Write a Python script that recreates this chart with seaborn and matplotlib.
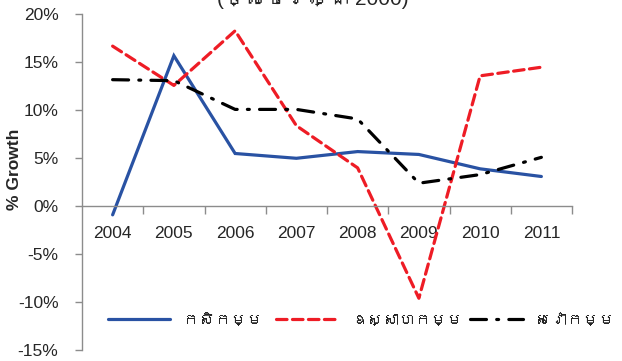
import numpy as np
import pandas as pd
import seaborn as sns
import matplotlib
matplotlib.use("Agg")
import matplotlib.pyplot as plt
from matplotlib import font_manager
from matplotlib.ft2font import FT2Font
from matplotlib.lines import Line2D
from matplotlib.ticker import FixedLocator, FuncFormatter

years = ["2004", "2005", "2006", "2007", "2008", "2009", "2010", "2011"]
agriculture = [-0.9, 15.7, 5.5, 5.0, 5.7, 5.4, 3.9, 3.1]
industry = [16.7, 12.6, 18.3, 8.4, 4.0, -9.6, 13.6, 14.5]
services = [13.2, 13.1, 10.1, 10.1, 9.1, 2.4, 3.3, 5.1]
series_names = ["កសិកម្ម", "ឧស្សាហកម្ម", "សេវាកម្ម"]
title_text = "(ថ្លៃថេរឆ្នាំ 2000)"
y_ticks = [-15, -10, -5, 0, 5, 10, 15, 20]


def find_khmer_family():
    """Return the name of an installed family that covers Khmer script."""
    seen = set()
    for entry in font_manager.fontManager.ttflist:
        if entry.fname in seen:
            continue
        seen.add(entry.fname)
        try:
            cmap = FT2Font(entry.fname).get_charmap()
        except Exception:
            continue
        if 0x1780 in cmap and 0x17D2 in cmap:
            return entry.name
    return None


sns.set_theme(style="white")
base_family = "Liberation Sans"
khmer = find_khmer_family()
families = [base_family] + ([khmer] if khmer else []) + ["DejaVu Sans"]
plt.rcParams["font.family"] = families

fig = plt.figure(figsize=(6.22, 3.61), dpi=100)
ax = fig.add_axes([82 / 622, 1 - 350 / 361, (572 - 82) / 622, (350 - 14.5) / 361])

pos = np.arange(len(years))
df = pd.DataFrame({
    "pos": np.tile(pos, 3),
    "value": agriculture + industry + services,
    "sector": np.repeat(series_names, len(years)),
})

palette = {series_names[0]: "#2952A3", series_names[1]: "#EE1C25", series_names[2]: "#000000"}
dash_map = {series_names[0]: "", series_names[1]: (3.3, 1.7), series_names[2]: (5, 3.2, 0.6, 3.2)}

sns.lineplot(data=df, x="pos", y="value", hue="sector", style="sector",
             palette=palette, dashes=dash_map, linewidth=2.3, ax=ax,
             legend=False, sort=False)
for ln in ax.get_lines():
    ln.set_dash_capstyle("round")
    ln.set_solid_joinstyle("miter")

ax.set_xlim(-0.5, len(years) - 0.5)
ax.set_ylim(-15, 20)

axis_col = "#8C8C8C"
for side in ["top", "right"]:
    ax.spines[side].set_visible(False)
ax.spines["left"].set_color(axis_col)
ax.spines["bottom"].set_color(axis_col)
ax.spines["left"].set_linewidth(1.0)
ax.spines["bottom"].set_linewidth(1.0)
ax.spines["bottom"].set_position(("data", 0))

ax.yaxis.set_major_locator(FixedLocator(y_ticks))
ax.yaxis.set_major_formatter(FuncFormatter(lambda v, p: f"{v:.0f}%"))
ax.tick_params(axis="y", direction="out", length=5, color=axis_col, width=1.0,
               labelsize=12.5, pad=12, left=True)

ax.set_xticks(pos)
ax.set_xticklabels(years)
ax.set_xticks(np.arange(len(years)) + 0.5, minor=True)
ax.tick_params(axis="x", which="major", length=0, labelsize=12.5, pad=14)
ax.tick_params(axis="x", which="minor", direction="out", length=6, color=axis_col,
               width=1.0, bottom=True)
ax.set_xlabel("")
ax.set_ylabel("% Growth", fontsize=12.5, fontweight="bold")
ax.yaxis.set_label_coords((22 - 82) / 490, 0.54)
ax.grid(False)

handles = [
    Line2D([], [], color=palette[series_names[0]], lw=2.3),
    Line2D([], [], color=palette[series_names[1]], lw=2.3, dashes=dash_map[series_names[1]],
           dash_capstyle="round"),
    Line2D([], [], color=palette[series_names[2]], lw=2.3, dashes=dash_map[series_names[2]],
           dash_capstyle="round"),
]
# one legend entry per slot, spread along the bottom of the plot
slots = [(108, 3.9), (276, 3.9), (470, 3.3)]
for h, name, (x0, hl) in zip(handles, series_names, slots):
    fig.legend([h], [name], loc="center left", bbox_to_anchor=(x0 / 622, 1 - 320 / 361),
               frameon=False, fontsize=11.5, handlelength=hl, handletextpad=0.8,
               borderaxespad=0, borderpad=0)

fig.text(313 / 622, 1 - 5 / 361, title_text, ha="center", va="baseline", fontsize=15)

fig.savefig("out.png", dpi=100, facecolor="white")
